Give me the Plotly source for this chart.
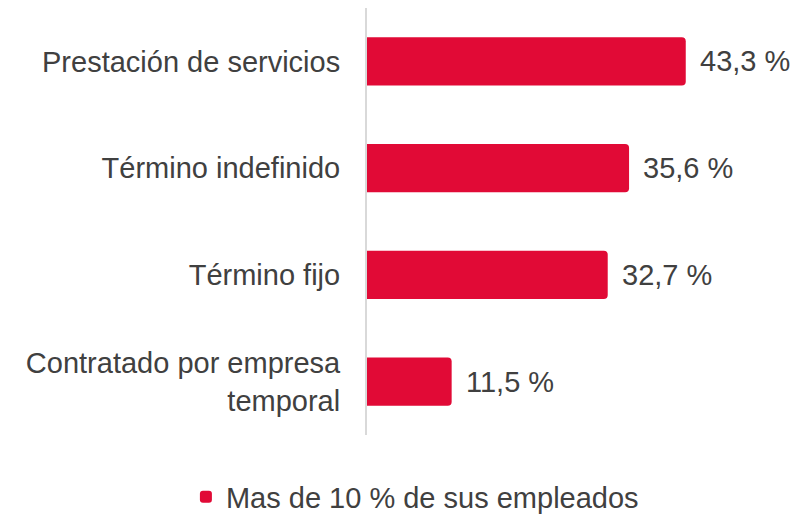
import plotly.graph_objects as go

categories = ["Prestación de servicios", "Término indefinido", "Término fijo",
              "Contratado por empresa<br>temporal"]
values = [43.3, 35.6, 32.7, 11.5]
value_labels = ["43,3 %", "35,6 %", "32,7 %", "11,5 %"]
series_name = "Mas de 10 % de sus empleados"

RED = "#E10A36"
TXT = "#404040"
FONT = "Liberation Sans, Arial, sans-serif"

fig = go.Figure()
fig.add_trace(go.Bar(
    x=values, y=categories, orientation="h", name=series_name,
    marker=dict(color=RED, cornerradius=4, line=dict(width=0)),
    showlegend=True, hoverinfo="skip",
))

for v, c, t in zip(values, categories, value_labels):
    fig.add_annotation(x=v, y=c, text=t, showarrow=False, xanchor="left",
                       xshift=12, font=dict(family=FONT, size=29, color=TXT))

fig.update_layout(
    width=801, height=512,
    margin=dict(l=359, r=4, t=0, b=85),
    paper_bgcolor="white", plot_bgcolor="white",
    bargap=0.55,
    font=dict(family=FONT, size=29, color=TXT),
    xaxis=dict(range=[0, 59.5], visible=False, showgrid=False, zeroline=False),
    yaxis=dict(autorange="reversed", showline=True, linecolor="#D9D9D9",
               linewidth=2, ticks="", ticklabelstandoff=19, showgrid=False,
               tickfont=dict(family=FONT, size=29, color=TXT)),
    legend=dict(orientation="h", xref="container", yref="container",
                x=0.508, y=0.045, xanchor="center", yanchor="middle",
                font=dict(family=FONT, size=29, color=TXT), itemwidth=30),
)

fig.write_html("out.html")
